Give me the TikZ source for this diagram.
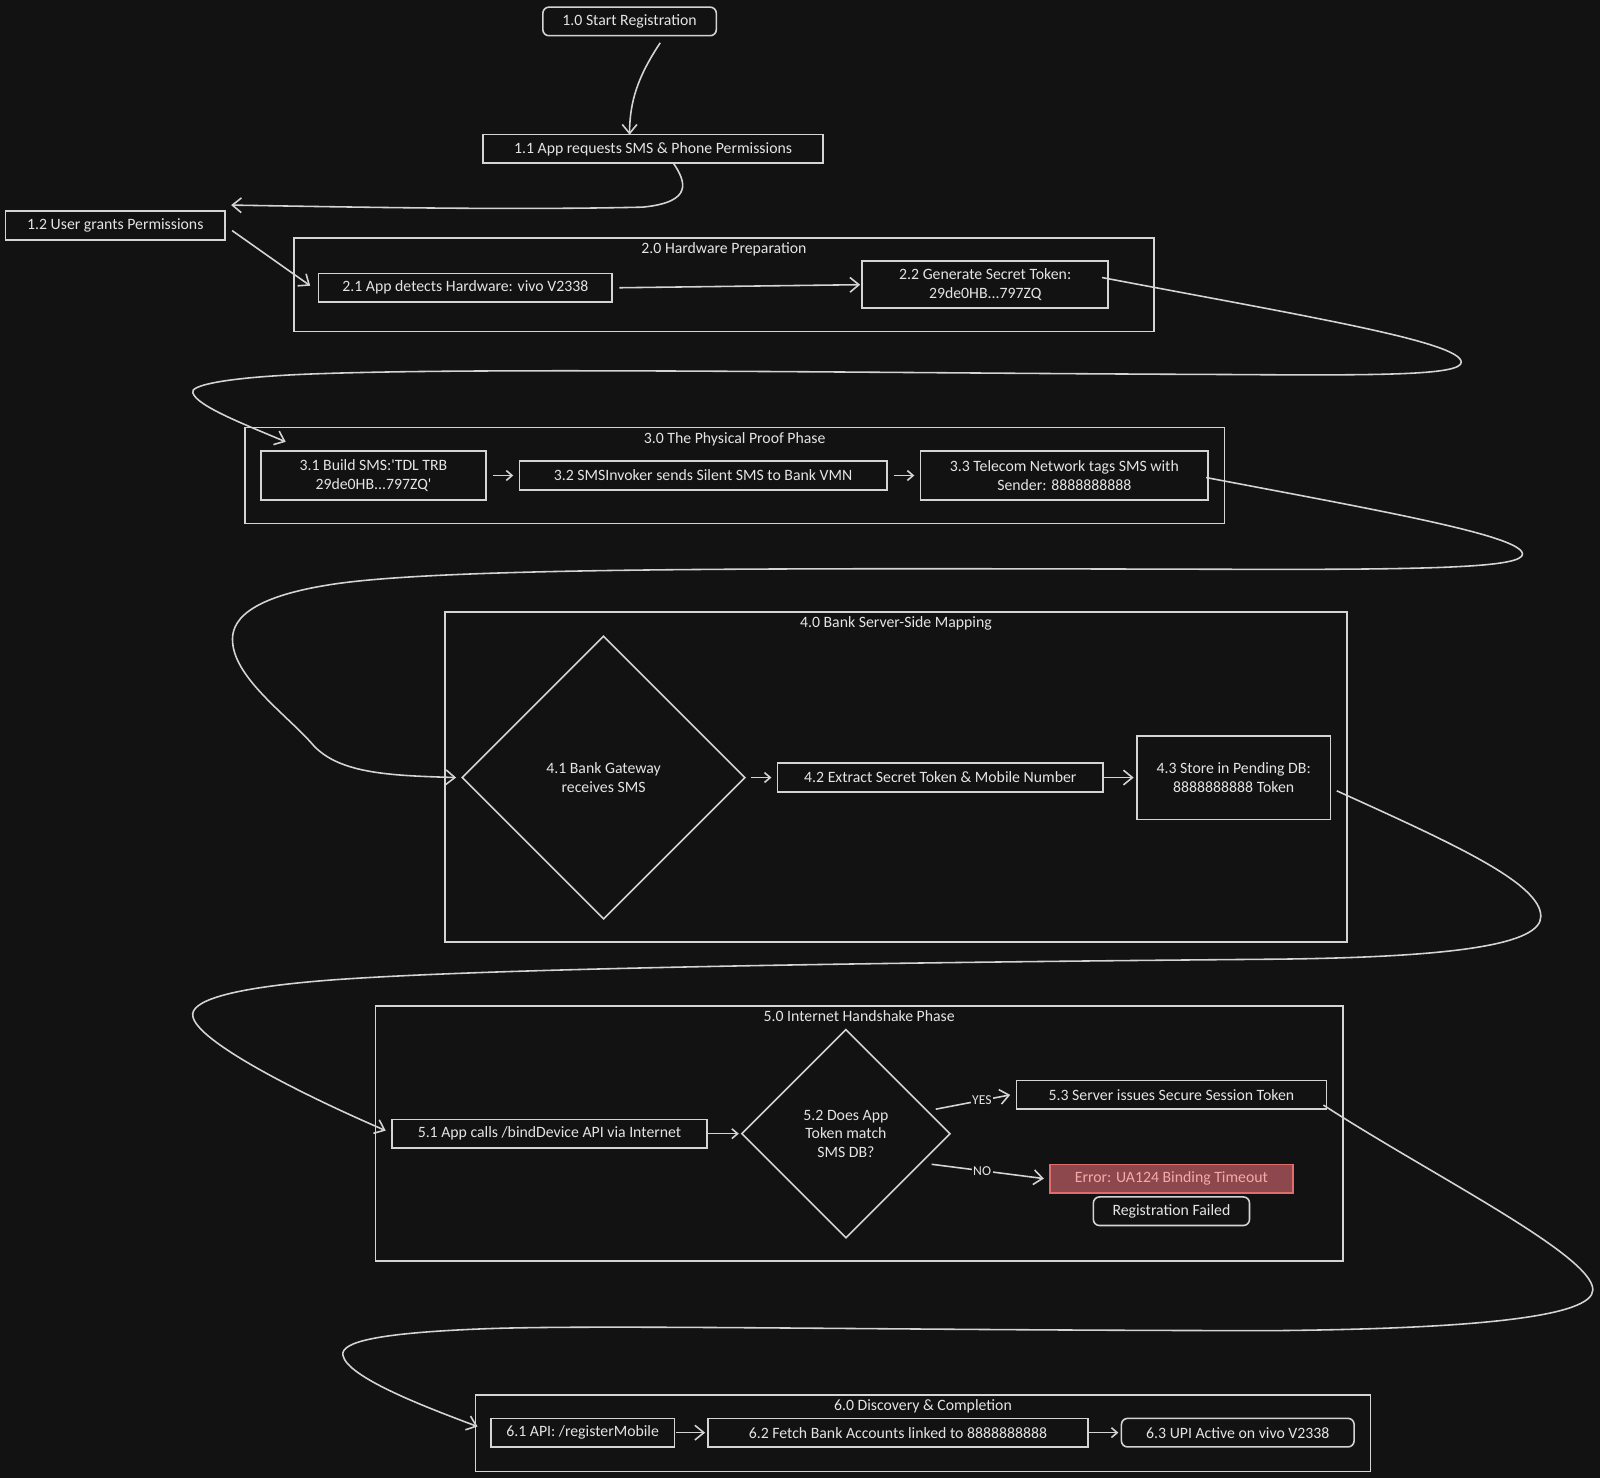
\documentclass[tikz,border=0pt]{standalone}
\usepackage{fontspec}
\setmainfont{Carlito}
\usepackage{tikz}
\usepackage{xcolor}
\usetikzlibrary{shapes.geometric}
\usetikzlibrary{positioning}
\usetikzlibrary{arrows.meta}

\definecolor{bgc}{HTML}{121212}
\definecolor{ink}{HTML}{D4D4D4}
\definecolor{txt}{HTML}{E4E4E4}
\definecolor{errfill}{HTML}{8C484C}
\definecolor{errline}{HTML}{E06C6C}
\definecolor{errtxt}{HTML}{F5AAAA}

\begin{document}
\begin{tikzpicture}[x=0.25mm, y=-0.25mm, stepbox/.style={draw=ink, fill=bgc, text=txt, line width=1.1pt, rectangle, minimum height=7mm, inner sep=2pt, outer sep=0pt, align=center, font=\fontsize{11}{13}\selectfont}, endbox/.style={stepbox, rounded corners=1.5mm}, phase/.style={draw=ink, line width=1.1pt, rectangle, inner sep=0pt}, phaselbl/.style={text=txt, inner sep=1pt, font=\fontsize{11}{13}\selectfont}, check/.style={stepbox, diamond, aspect=1, inner sep=0pt}, errbox/.style={stepbox, fill=errfill, draw=errline, text=errtxt}, flow/.style={draw=ink, line width=1.1pt, -{Straight Barb[length=2.2mm, width=3.6mm]}}, shortflow/.style={draw=ink, line width=1.1pt, -{Straight Barb[length=1.4mm, width=2.4mm]}}, tag/.style={fill=bgc, text=txt, inner sep=1pt, font=\fontsize{9.5}{10}\selectfont}]
        \fill[bgc] (0,0) rectangle (1568,1448.4);
        \useasboundingbox (0,0) rectangle (1568,1448.4);

        % phase frames
        \node[phase, minimum width=210.75mm, minimum height=23mm] (hw) at (709.5,279) {};
        \node[phaselbl] (hwlbl) [below=0.9mm of hw.north] {2.0 Hardware Preparation};
        \node[phase, minimum width=240mm, minimum height=23.5mm] (proof) at (720,466) {};
        \node[phaselbl] (prooflbl) [below=0.9mm of proof.north] {3.0 The Physical Proof Phase};
        \node[phase, minimum width=221mm, minimum height=80.75mm] (bank) at (878,761.5) {};
        \node[phaselbl] (banklbl) [below=0.9mm of bank.north] {4.0 Bank Server-Side Mapping};
        \node[phase, minimum width=237mm, minimum height=62.5mm] (net) at (842,1111) {};
        \node[phaselbl] (netlbl) [below=0.9mm of net.north] {5.0 Internet Handshake Phase};
        \node[phase, minimum width=219.25mm, minimum height=18.75mm] (done) at (904.5,1404.5) {};
        \node[phaselbl] (donelbl) [below=0.9mm of done.north] {6.0 Discovery \& Completion};

        \node[endbox, minimum width=42.5mm] (start) at (617,21) {1.0 Start Registration};
        \node[stepbox, minimum width=83.25mm] (ask) at (640,146) {1.1 App requests SMS \& Phone Permissions};
        \node[stepbox, minimum width=53.75mm] (grant) at (113,221) {1.2 User grants Permissions};
        \node[stepbox, minimum width=72mm] (detect) at (456,282) {2.1 App detects Hardware: vivo V2338};
        \node[stepbox, minimum width=60.25mm, minimum height=11.5mm] (token) at (965.5,279) {2.2 Generate Secret Token:\\29de0HB...797ZQ};

        \node[stepbox, minimum width=55mm, minimum height=12mm] (build) at (366,466) {3.1 Build SMS:\textquotesingle TDL TRB\\29de0HB...797ZQ\textquotesingle};
        \node[stepbox, minimum width=90mm] (send) [right=8.25mm of build] {3.2 SMSInvoker sends Silent SMS to Bank VMN};
        \node[stepbox, minimum width=70.5mm, minimum height=12mm] (telco) [right=8.25mm of send] {3.3 Telecom Network tags SMS with\\Sender: 8888888888};

        \node[check, minimum size=69.25mm] (gate) at (591.5,762) {4.1 Bank Gateway\\receives SMS};
        \node[stepbox, minimum width=79.75mm] (extract) [right=8mm of gate] {4.2 Extract Secret Token \& Mobile Number};
        \node[stepbox, minimum width=47.5mm, minimum height=20.5mm] (pending) [right=8.25mm of extract] {4.3 Store in Pending DB:\\8888888888 Token};

        \node[stepbox, minimum width=77.25mm] (bind) at (538.5,1111) {5.1 App calls /bindDevice API via Internet};
        \node[check, minimum size=51mm] (match) [right=8.5mm of bind] {5.2 Does App\\Token match\\SMS DB?};
        \node[stepbox, minimum width=76mm] (session) at (1148,1073) {5.3 Server issues Secure Session Token};
        \node[errbox, minimum width=59.5mm] (timeout) at (1148,1155) {Error: UA124 Binding Timeout};
        \node[endbox, minimum width=38.25mm] (failed) [below=1mm of timeout] {Registration Failed};

        \node[stepbox, minimum width=45mm] (api) at (571,1404) {6.1 API: /registerMobile};
        \node[stepbox, minimum width=93mm] (fetch) [right=8.25mm of api] {6.2 Fetch Bank Accounts linked to 8888888888};
        \node[endbox, minimum width=57mm] (upi) [right=8.25mm of fetch] {6.3 UPI Active on vivo V2338};

        \draw[flow] ([xshift=7.5mm,yshift=-1.75mm]start.south) .. controls (625,75) and (617,100) .. ([xshift=-5.75mm]ask.north);
        \draw[flow] ([xshift=5mm]ask.south) .. controls (672,178) and (680,198) .. (630,203)
                    .. controls (500,206) and (350,203) .. ([xshift=1.5mm,yshift=1.5mm]grant.north east);
        \draw[flow] ([xshift=1.75mm,yshift=-1.25mm]grant.east) -- ([xshift=-2mm,yshift=0.5mm]detect.west);
        \draw[flow] ([xshift=1.75mm]detect.east) -- ([xshift=-0.5mm]token.west);
        \draw[flow] ([xshift=-1.5mm,yshift=1.75mm]token.east) .. controls (1280,310) and (1432,335) .. (1432,355) % out to the right
                    .. controls (1432,368) and (1350,368) .. (1200,367)
                    .. controls (900,366) and (500,360) .. (320,366) % back along the gap
                    .. controls (220,369) and (185,378) .. (189,385)
                    .. controls (193,398) and (240,416) .. ([xshift=6mm,yshift=2.25mm]build.north west);
        \draw[shortflow, shorten <=1.75mm, shorten >=1.5mm] (build) -- (send);
        \draw[shortflow, shorten <=1.75mm, shorten >=1.5mm] (send) -- (telco);
        \draw[flow] ([xshift=-0.5mm,yshift=-0.5mm]telco.east) .. controls (1350,500) and (1492,525) .. (1492,543)
                    .. controls (1492,555) and (1420,558) .. (1250,558)
                    .. controls (800,557) and (450,555) .. (330,572)
                    .. controls (240,585) and (226,610) .. (228,630)
                    .. controls (231,665) and (280,700) .. (305,728)
                    .. controls (330,758) and (380,760) .. ([xshift=-1.5mm]gate.west);
        \draw[shortflow, shorten <=1.5mm, shorten >=1.5mm] (gate) -- (extract);
        \draw[flow, shorten <=0.25mm, shorten >=0.75mm] (extract) -- (pending);
        \draw[flow] ([xshift=1.5mm,yshift=-3.25mm]pending.east) .. controls (1420,825) and (1510,865) .. (1510,898)
                    .. controls (1510,925) and (1430,938) .. (1250,940)
                    .. controls (900,943) and (500,948) .. (330,960)
                    .. controls (220,968) and (186,982) .. (189,996)
                    .. controls (193,1020) and (290,1070) .. ([xshift=-1.5mm,yshift=0.75mm]bind.west);
        \draw[shortflow, shorten <=0.25mm, shorten >=0.75mm] (bind) -- (match);
        \draw[flow] ([xshift=-3.5mm,yshift=6mm]match.east) -- node[tag, pos=0.62] (yes) {YES} ([xshift=-1.5mm]session.west);
        \draw[flow] ([xshift=-4.5mm,yshift=-7.5mm]match.east) -- node[tag, pos=0.45] (no) {NO} ([xshift=-1.5mm]timeout.west);
        \draw[flow] ([xshift=-0.75mm,yshift=-2.5mm]session.east) .. controls (1400,1150) and (1561,1230) .. (1561,1264)
                    .. controls (1561,1290) and (1450,1302) .. (1250,1304)
                    .. controls (900,1304) and (600,1298) .. (480,1302)
                    .. controls (370,1306) and (334,1315) .. (336,1328)
                    .. controls (340,1350) and (420,1380) .. ([xshift=-3.25mm,yshift=1.5mm]api.west);
        \draw[flow, shorten <=0.25mm, shorten >=0.75mm] (api) -- (fetch);
        \draw[shortflow, shorten <=0.25mm, shorten >=0.75mm] (fetch) -- (upi);
    \end{tikzpicture}
\end{document}
